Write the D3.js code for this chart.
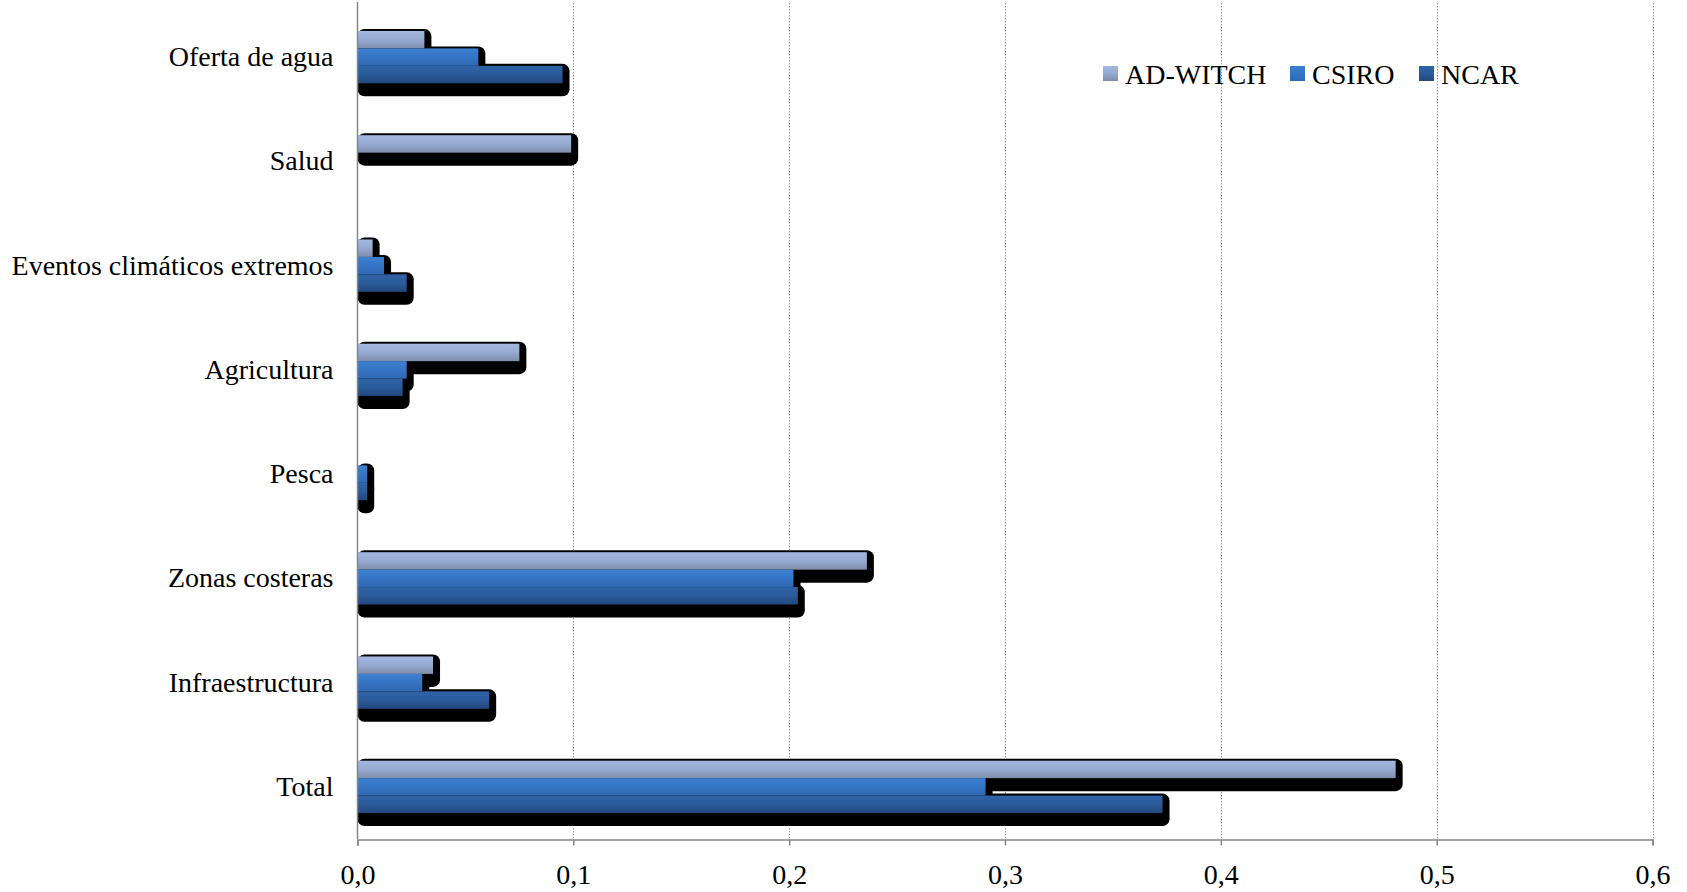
<!DOCTYPE html>
<html>
<head>
<meta charset="utf-8">
<script src="https://cdn.jsdelivr.net/npm/d3@7/dist/d3.min.js"></script>
<style>
html,body{margin:0;padding:0;background:#fff;}
svg{display:block;}
text{font-family:"Liberation Serif","Times New Roman",serif;fill:#000;}
</style>
</head>
<body>
<svg id="chart" width="1687" height="892"></svg>
<script>
const categories = ["Oferta de agua","Salud","Eventos climáticos extremos","Agricultura","Pesca","Zonas costeras","Infraestructura","Total"];
const seriesNames = ["AD-WITCH","CSIRO","NCAR"];
const adWitch = [0.031,0.099,0.007,0.075,0,0.236,0.035,0.481];
const csiro   = [0.056,0,0.0123,0.0228,0.0045,0.202,0.030,0.291];
const ncar    = [0.095,0,0.0228,0.0209,0.0045,0.204,0.061,0.373];
const xTicks = [0,0.1,0.2,0.3,0.4,0.5,0.6];

(function(){
const seriesValues = [adWitch, csiro, ncar];
const gradStops = [
  ["#a4b8e0","#97aad0","#7f8dab"],
  ["#3d80d2","#3574c4","#2f68b3"],
  ["#2e64a8","#2a5b99","#22477d"]
];

const svg = d3.select("#chart");
const pL = 357.5, pR = 1652.5, pT = 5, pB = 839;

const x = d3.scaleLinear().domain([0,0.6]).range([pL,pR]);
const y = d3.scaleBand().domain(categories).range([pT,pB]).paddingInner(0.498).paddingOuter(0.249);
const ys = d3.scaleBand().domain(seriesNames).range([0,y.bandwidth()]);

const defs = svg.append("defs");
seriesNames.forEach((s,i)=>{
  const g = defs.append("linearGradient").attr("id","g"+i).attr("x1",0).attr("y1",0).attr("x2",0).attr("y2",1);
  g.append("stop").attr("offset","0%").attr("stop-color",gradStops[i][0]);
  g.append("stop").attr("offset","50%").attr("stop-color",gradStops[i][1]);
  g.append("stop").attr("offset","100%").attr("stop-color",gradStops[i][2]);
});

// gridlines
svg.append("g").selectAll("line").data(xTicks.filter(t=>t>0)).join("line")
  .attr("x1",d=>Math.round(x(d))+0.5).attr("x2",d=>Math.round(x(d))+0.5)
  .attr("y1",pT-2).attr("y2",pB)
  .attr("stroke","#9a9a9a").attr("stroke-width",1).attr("stroke-dasharray","1.5,1.5");

const recs = [];
categories.forEach((c,ci)=>{
  seriesNames.forEach((s,si)=>{
    recs.push({c:c, s:s, si:si, v:seriesValues[si][ci]});
  });
});
const nz = recs.filter(d=>d.v>0);

// shadows
svg.append("g").selectAll("rect").data(nz).join("rect")
  .attr("x",x(0))
  .attr("y",d=>y(d.c)+ys(d.s)-2)
  .attr("width",d=>x(d.v)-x(0)+7)
  .attr("height",ys.bandwidth()+15)
  .attr("rx",7).attr("ry",7)
  .attr("fill","#000");

// bars
svg.append("g").selectAll("rect").data(nz).join("rect")
  .attr("x",x(0))
  .attr("y",d=>y(d.c)+ys(d.s))
  .attr("width",d=>x(d.v)-x(0))
  .attr("height",ys.bandwidth())
  .attr("fill",d=>"url(#g"+d.si+")");

// x axis
const xAxis = d3.axisBottom(x).tickValues(xTicks).tickSize(6).tickPadding(19)
  .tickFormat(d=>d3.format(".1f")(d).replace(".",","));
const gx = svg.append("g").attr("transform",`translate(0,${pB+0.5})`).call(xAxis);
gx.select(".domain").attr("stroke","#868686").attr("stroke-width",1.5);
gx.selectAll(".tick line").attr("stroke","#868686").attr("stroke-width",1.5);
gx.selectAll("text").attr("font-size",28).attr("font-family","Liberation Serif").attr("fill","#000");

// y axis
const yAxis = d3.axisLeft(y).tickSize(0).tickPadding(24);
const gy = svg.append("g").attr("transform",`translate(${pL},0)`).call(yAxis);
gy.select(".domain").attr("stroke","#868686").attr("stroke-width",1.5).attr("d",`M0,${pT-3}V${pB}`);
gy.selectAll("text").attr("font-size",28).attr("font-family","Liberation Serif").attr("fill","#000");

// legend
const legX = [1103,1290,1419];
const leg = svg.append("g");
seriesNames.forEach((s,i)=>{
  leg.append("rect").attr("x",legX[i]).attr("y",66).attr("width",15).attr("height",15).attr("fill","url(#g"+i+")");
  leg.append("text").attr("x",legX[i]+22).attr("y",83.5).attr("font-size",28).text(s);
});
})();
</script>
</body>
</html>
